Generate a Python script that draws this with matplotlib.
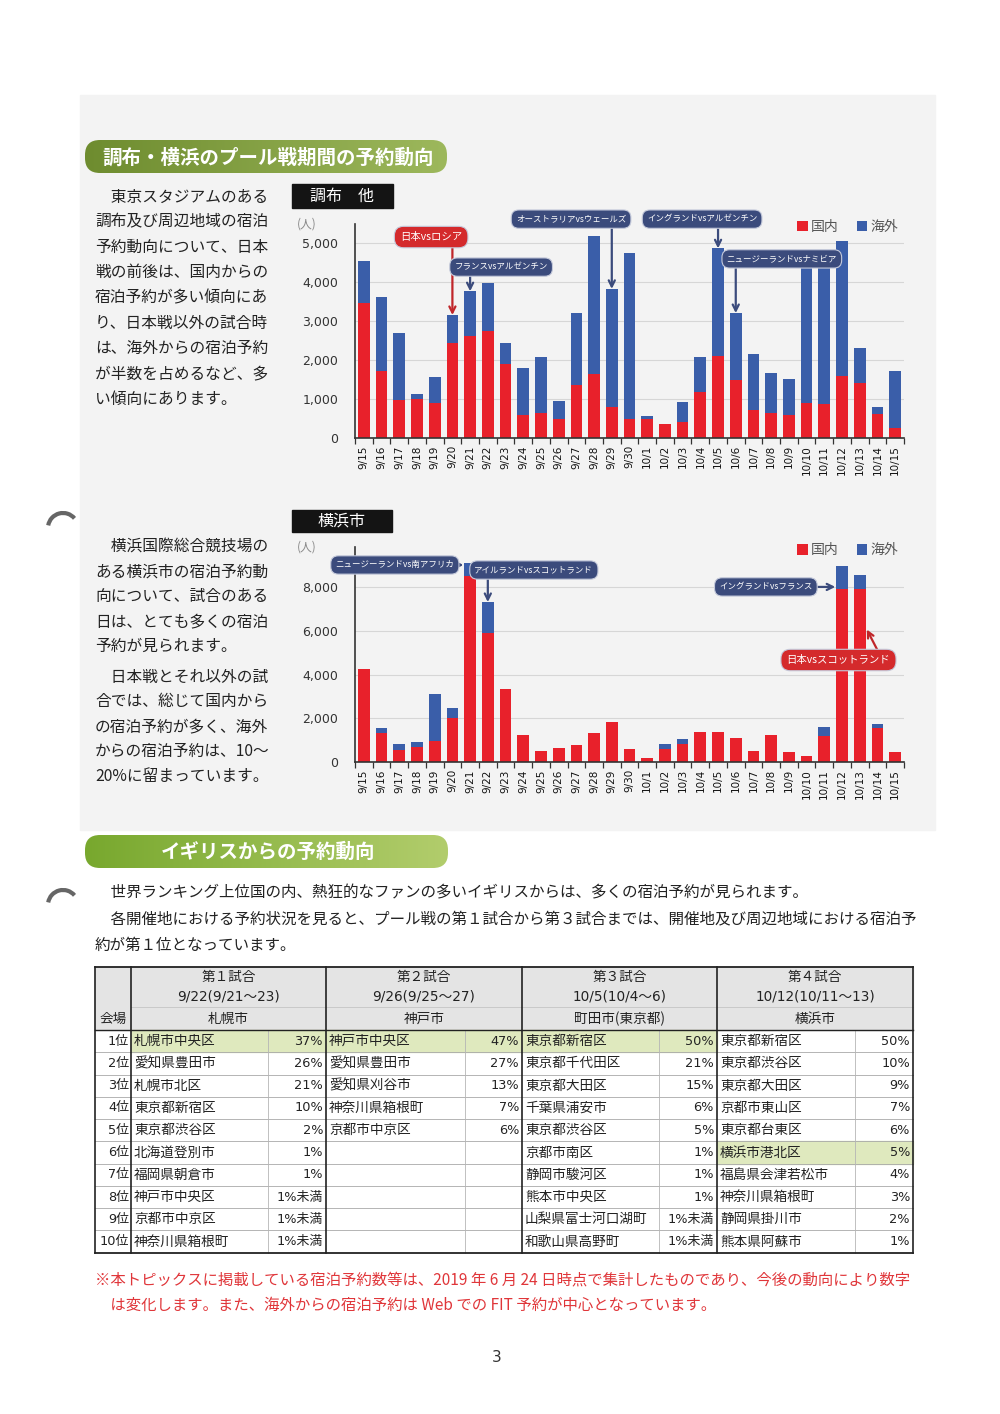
import matplotlib
matplotlib.use("Agg")
import matplotlib.pyplot as plt
import numpy as np
from matplotlib.patches import Rectangle, FancyBboxPatch, Arc
from matplotlib.colors import LinearSegmentedColormap
from matplotlib.ticker import StrMethodFormatter

plt.rcParams["font.family"] = ["Noto Sans CJK JP", "DejaVu Sans"]
NUM_FONT = ["DejaVu Sans", "Noto Sans CJK JP"]

RED = "#e8212b"
BLUE = "#3a5ea9"
NAVY = "#3b4b7c"
CALLOUT_RED = "#d42a2c"
TEXT = "#222222"

# ---- データ ----
dates = ["9/15", "9/16", "9/17", "9/18", "9/19", "9/20", "9/21", "9/22",
         "9/23", "9/24", "9/25", "9/26", "9/27", "9/28", "9/29", "9/30",
         "10/1", "10/2", "10/3", "10/4", "10/5", "10/6", "10/7", "10/8",
         "10/9", "10/10", "10/11", "10/12", "10/13", "10/14", "10/15"]

chofu_domestic = [3480, 1730, 980, 1010, 910, 2440, 2630, 2740, 1910, 590, 640,
                  500, 1370, 1640, 800, 490, 490, 370, 410, 1180, 2110, 1500,
                  730, 640, 590, 910, 870, 1600, 1410, 620, 260]
chofu_overseas = [1070, 1900, 1730, 120, 650, 720, 1140, 1250, 540, 1220, 1440,
                  450, 1830, 3550, 3030, 4250, 90, 0, 520, 910, 2760, 1710,
                  1430, 1040, 920, 3640, 3730, 3460, 910, 170, 1460]

yokohama_domestic = [4230, 1320, 560, 680, 990, 2000, 8480, 5870, 3350, 1240, 530,
                     670, 790, 1320, 1820, 590, 180, 590, 850, 1370, 1370, 1090,
                     520, 1240, 460, 270, 1180, 7890, 7880, 1550, 470]
yokohama_overseas = [0, 260, 260, 250, 2110, 460, 580, 1430, 0, 0, 0,
                     0, 0, 0, 0, 0, 0, 230, 210, 0, 0, 0,
                     0, 0, 0, 0, 440, 1050, 650, 200, 0]

text_chofu = ["　東京スタジアムのある", "調布及び周辺地域の宿泊", "予約動向について、日本",
              "戦の前後は、国内からの", "宿泊予約が多い傾向にあ", "り、日本戦以外の試合時",
              "は、海外からの宿泊予約", "が半数を占めるなど、多", "い傾向にあります。"]
text_yokohama_1 = ["　横浜国際総合競技場の", "ある横浜市の宿泊予約動", "向について、試合のある",
                   "日は、とても多くの宿泊", "予約が見られます。"]
text_yokohama_2 = ["　日本戦とそれ以外の試", "合では、総じて国内から", "の宿泊予約が多く、海外",
                   "からの宿泊予約は、10～", "20%に留まっています。"]
text_uk = ["　世界ランキング上位国の内、熱狂的なファンの多いイギリスからは、多くの宿泊予約が見られます。",
           "　各開催地における予約状況を見ると、プール戦の第１試合から第３試合までは、開催地及び周辺地域における宿泊予",
           "約が第１位となっています。"]
footnote = ["※本トピックスに掲載している宿泊予約数等は、2019 年 6 月 24 日時点で集計したものであり、今後の動向により数字",
            "　は変化します。また、海外からの宿泊予約は Web での FIT 予約が中心となっています。"]

match_titles = ["第１試合", "第２試合", "第３試合", "第４試合"]
match_dates = ["9/22(9/21～23)", "9/26(9/25～27)", "10/5(10/4～6)", "10/12(10/11～13)"]
match_venues = ["札幌市", "神戸市", "町田市(東京都)", "横浜市"]
ranks = ["1位", "2位", "3位", "4位", "5位", "6位", "7位", "8位", "9位", "10位"]
areas = [
    ["札幌市中央区", "愛知県豊田市", "札幌市北区", "東京都新宿区", "東京都渋谷区",
     "北海道登別市", "福岡県朝倉市", "神戸市中央区", "京都市中京区", "神奈川県箱根町"],
    ["神戸市中央区", "愛知県豊田市", "愛知県刈谷市", "神奈川県箱根町", "京都市中京区",
     "", "", "", "", ""],
    ["東京都新宿区", "東京都千代田区", "東京都大田区", "千葉県浦安市", "東京都渋谷区",
     "京都市南区", "静岡市駿河区", "熊本市中央区", "山梨県富士河口湖町", "和歌山県高野町"],
    ["東京都新宿区", "東京都渋谷区", "東京都大田区", "京都市東山区", "東京都台東区",
     "横浜市港北区", "福島県会津若松市", "神奈川県箱根町", "静岡県掛川市", "熊本県阿蘇市"],
]
shares = [
    ["37%", "26%", "21%", "10%", "2%", "1%", "1%", "1%未満", "1%未満", "1%未満"],
    ["47%", "27%", "13%", "7%", "6%", "", "", "", "", ""],
    ["50%", "21%", "15%", "6%", "5%", "1%", "1%", "1%", "1%未満", "1%未満"],
    ["50%", "10%", "9%", "7%", "6%", "5%", "4%", "3%", "2%", "1%"],
]
venue_rank = [0, 0, 0, 5]  # 開催地の順位（緑の網掛け）

W, H = 1000, 1414
fig = plt.figure(figsize=(10, 14.14), dpi=100)
fig.patch.set_facecolor("white")

bg = fig.add_axes([0, 0, 1, 1])
bg.set_xlim(0, W)
bg.set_ylim(H, 0)
bg.axis("off")

bg.add_patch(Rectangle((80, 95), 855, 735, color="#f3f3f3", zorder=0))


def px_axes(x0, y0, x1, y1):
    return fig.add_axes([x0 / W, 1 - y1 / H, (x1 - x0) / W, (y1 - y0) / H])


def banner(x0, y0, x1, y1, text, cx, c0, c1):
    patch = FancyBboxPatch((x0, y0), x1 - x0, y1 - y0,
                           boxstyle="round,pad=0,rounding_size=15",
                           fc="none", ec="none", zorder=2)
    bg.add_patch(patch)
    cmap = LinearSegmentedColormap.from_list("g", [c0, c1])
    grad = np.linspace(0, 1, 256).reshape(1, -1)
    im = bg.imshow(grad, cmap=cmap, extent=(x0, x1, y1, y0), aspect="auto", zorder=2)
    im.set_clip_path(patch)
    bg.text(cx, (y0 + y1) / 2 + 1, text, color="white", fontsize=14, fontweight="bold",
            ha="center", va="center", zorder=3)


def paragraph(lines, x, y0, step, size=11.3, color=TEXT):
    for i, line in enumerate(lines):
        bg.text(x, y0 + i * step, line, fontsize=size, color=color, ha="left", va="center",
                family=["Noto Sans CJK JP", "DejaVu Sans"])


def label_box(x0, y0, x1, y1, text):
    bg.add_patch(Rectangle((x0, y0), x1 - x0, y1 - y0, color="#141414", zorder=2))
    bg.text((x0 + x1) / 2, (y0 + y1) / 2, text, color="white", fontsize=11.5,
            ha="center", va="center", zorder=3)


def callout(ax, x, y, text, fc, size=6.1):
    ax.text(x, y, text, ha="center", va="center", fontsize=size, color="white", zorder=6,
            bbox=dict(boxstyle="round,pad=0.55,rounding_size=0.9", fc=fc, ec="#c5cadb", lw=0.8))


def arrow(ax, start, end, color):
    ax.annotate("", xy=end, xytext=start, zorder=5,
                arrowprops=dict(arrowstyle="->", color=color, lw=1.6,
                                shrinkA=0, shrinkB=0, mutation_scale=11))


def draw_chart(ax, domestic, overseas, ymax, yticks):
    x = np.arange(len(dates))
    ax.bar(x, domestic, width=0.66, color=RED, label="国内", zorder=2)
    ax.bar(x, overseas, width=0.66, bottom=domestic, color=BLUE, label="海外", zorder=2)
    ax.set_xlim(-0.5, len(dates) - 0.5)
    ax.set_ylim(0, ymax)
    ax.set_yticks(yticks)
    ax.yaxis.set_major_formatter(StrMethodFormatter("{x:,.0f}"))
    ax.set_xticks(x)
    ax.set_xticklabels(dates, rotation=90, fontsize=7.5, color="#111111", family=NUM_FONT)
    ax.set_xticks(np.arange(-0.5, len(dates)), minor=True)
    ax.tick_params(axis="x", which="major", length=0, pad=5)
    ax.tick_params(axis="x", which="minor", length=4, width=0.9, color="#333333")
    ax.tick_params(axis="y", length=0, pad=12, labelsize=9, labelcolor="#333333")
    for t in ax.get_yticklabels():
        t.set_family(NUM_FONT)
    ax.grid(axis="y", color="#d6d6d6", lw=0.8)
    ax.set_axisbelow(True)
    for s in ("top", "right"):
        ax.spines[s].set_visible(False)
    for s in ("left", "bottom"):
        ax.spines[s].set_color("#333333")
        ax.spines[s].set_linewidth(1.2)
    ax.set_facecolor("none")
    ax.text(-0.087, 1.0, "(人)", transform=ax.transAxes, fontsize=8.5, color="#888888",
            ha="center", va="center")
    leg = ax.legend(loc="center right", bbox_to_anchor=(1.0, 0.985), ncol=2, frameon=False,
                    handlelength=0.75, handleheight=0.75, handletextpad=0.25,
                    columnspacing=1.3, fontsize=10, borderaxespad=0)
    for t in leg.get_texts():
        t.set_color("#555555")


# ---- 見出し・本文（上段） ----
banner(85, 140, 447, 173, "調布・横浜のプール戦期間の予約動向", 268, "#6e8c2f", "#9db85c")
paragraph(text_chofu, 95, 197, 25.3)
label_box(292, 184, 393, 208, "調布　他")

ax1 = px_axes(355, 223.8, 904, 438.3)
draw_chart(ax1, chofu_domestic, chofu_overseas, 5500, np.arange(0, 5001, 1000))
callout(ax1, 3.8, 5160, "日本vsロシア", CALLOUT_RED, size=7.5)
arrow(ax1, (5, 5000), (5, 3160), "#c0262a")
callout(ax1, 7.75, 4390, "フランスvsアルゼンチン", NAVY)
arrow(ax1, (6, 4250), (6, 3770), NAVY)
callout(ax1, 11.7, 5620, "オーストラリアvsウェールズ", NAVY)
arrow(ax1, (14, 5500), (14, 3830), NAVY)
callout(ax1, 19.1, 5620, "イングランドvsアルゼンチン", NAVY)
arrow(ax1, (20, 5500), (20, 4870), NAVY)
callout(ax1, 23.6, 4600, "ニュージーランドvsナミビア", NAVY)
arrow(ax1, (21, 4500), (21, 3210), NAVY)

# ---- 横浜市 ----
paragraph(text_yokohama_1, 95, 547, 24.8)
paragraph(text_yokohama_2, 95, 677, 24.8)
label_box(292, 510, 392, 532, "横浜市")

ax2 = px_axes(355, 547.2, 904, 762.3)
draw_chart(ax2, yokohama_domestic, yokohama_overseas, 9800, np.arange(0, 8001, 2000))
callout(ax2, 1.75, 8990, "ニュージーランドvs南アフリカ", NAVY)
arrow(ax2, (1.75, 8990), (5.62, 8990), NAVY)
callout(ax2, 9.6, 8760, "アイルランドvsスコットランド", NAVY)
arrow(ax2, (7, 8600), (7, 7300), NAVY)
callout(ax2, 22.7, 7990, "イングランドvsフランス", NAVY)
arrow(ax2, (22.7, 7990), (26.62, 7990), NAVY)
callout(ax2, 26.8, 4660, "日本vsスコットランド", CALLOUT_RED, size=7.5)
arrow(ax2, (29.2, 4800), (28.4, 6050), "#c0262a")

# ---- イギリスからの予約動向 ----
banner(85, 835, 448, 868, "イギリスからの予約動向", 268, "#78a82e", "#b2cd6c")
paragraph(text_uk, 95, 893, 26, size=11.2)

# ---- 表 ----
top, hdr_bottom, row_h = 967, 1030, 22.27
bottom = hdr_bottom + row_h * len(ranks)
left = 95
block_x = [131, 326, 522, 717, 913]
pct_sep = [268, 465, 659, 855]

bg.add_patch(Rectangle((left, top), block_x[-1] - left, hdr_bottom - top,
                       color="#e4e4e4", zorder=1))
for b in range(4):
    bg.add_patch(Rectangle((block_x[b], hdr_bottom + venue_rank[b] * row_h),
                           block_x[b + 1] - block_x[b], row_h, color="#dfe9be", zorder=1))
for i in range(1, len(ranks)):
    y = hdr_bottom + i * row_h
    bg.plot([left, block_x[-1]], [y, y], color="#a8a8a8", lw=0.6, zorder=2)
bg.plot([block_x[0], block_x[-1]], [1007, 1007], color="#c4c4c4", lw=0.6, zorder=2)
for xs in pct_sep:
    bg.plot([xs, xs], [hdr_bottom, bottom], color="#b5b5b5", lw=0.6, zorder=2)
bg.plot([left, block_x[-1]], [hdr_bottom, hdr_bottom], color="#222222", lw=1.0, zorder=3)
for xs in [left] + block_x:
    bg.plot([xs, xs], [top, bottom], color="#222222", lw=1.2, zorder=3)
bg.plot([left, block_x[-1]], [top, top], color="#222222", lw=1.3, zorder=3)
bg.plot([left, block_x[-1]], [bottom, bottom], color="#222222", lw=1.3, zorder=3)

TS = 9.8
bg.text(113, 1019, "会場", fontsize=TS, color=TEXT, ha="center", va="center")
for b in range(4):
    cx = (block_x[b] + block_x[b + 1]) / 2
    bg.text(cx, 977, match_titles[b], fontsize=TS, color=TEXT, ha="center", va="center")
    bg.text(cx, 997, match_dates[b], fontsize=TS, color=TEXT, ha="center", va="center",
            family=NUM_FONT)
    bg.text(cx, 1019, match_venues[b], fontsize=TS, color=TEXT, ha="center", va="center")
    for i in range(len(ranks)):
        yc = hdr_bottom + (i + 0.5) * row_h
        bg.text(block_x[b] + 3, yc, areas[b][i], fontsize=TS, color=TEXT,
                ha="left", va="center", zorder=4)
        bg.text(block_x[b + 1] - 3, yc, shares[b][i], fontsize=9.3, color=TEXT,
                ha="right", va="center", family=NUM_FONT, zorder=4)
for i, r in enumerate(ranks):
    yc = hdr_bottom + (i + 0.5) * row_h
    bg.text(129, yc, r, fontsize=9.3, color=TEXT, ha="right", va="center",
            family=NUM_FONT, zorder=4)

# ---- 注記・ページ番号 ----
paragraph(footnote, 95, 1280, 25, size=11.1, color="#e0363a")
bg.text(497, 1357, "3", fontsize=11, color="#333333", ha="center", va="center",
        family=NUM_FONT)

# パンチ穴の跡
for cy in (528, 905):
    bg.add_patch(Arc((63, cy), 30, 30, theta1=190, theta2=320, color="#666666", lw=3))

bg.set_xlim(0, W)
bg.set_ylim(H, 0)

fig.savefig("out.png", dpi=100)
plt.close(fig)
